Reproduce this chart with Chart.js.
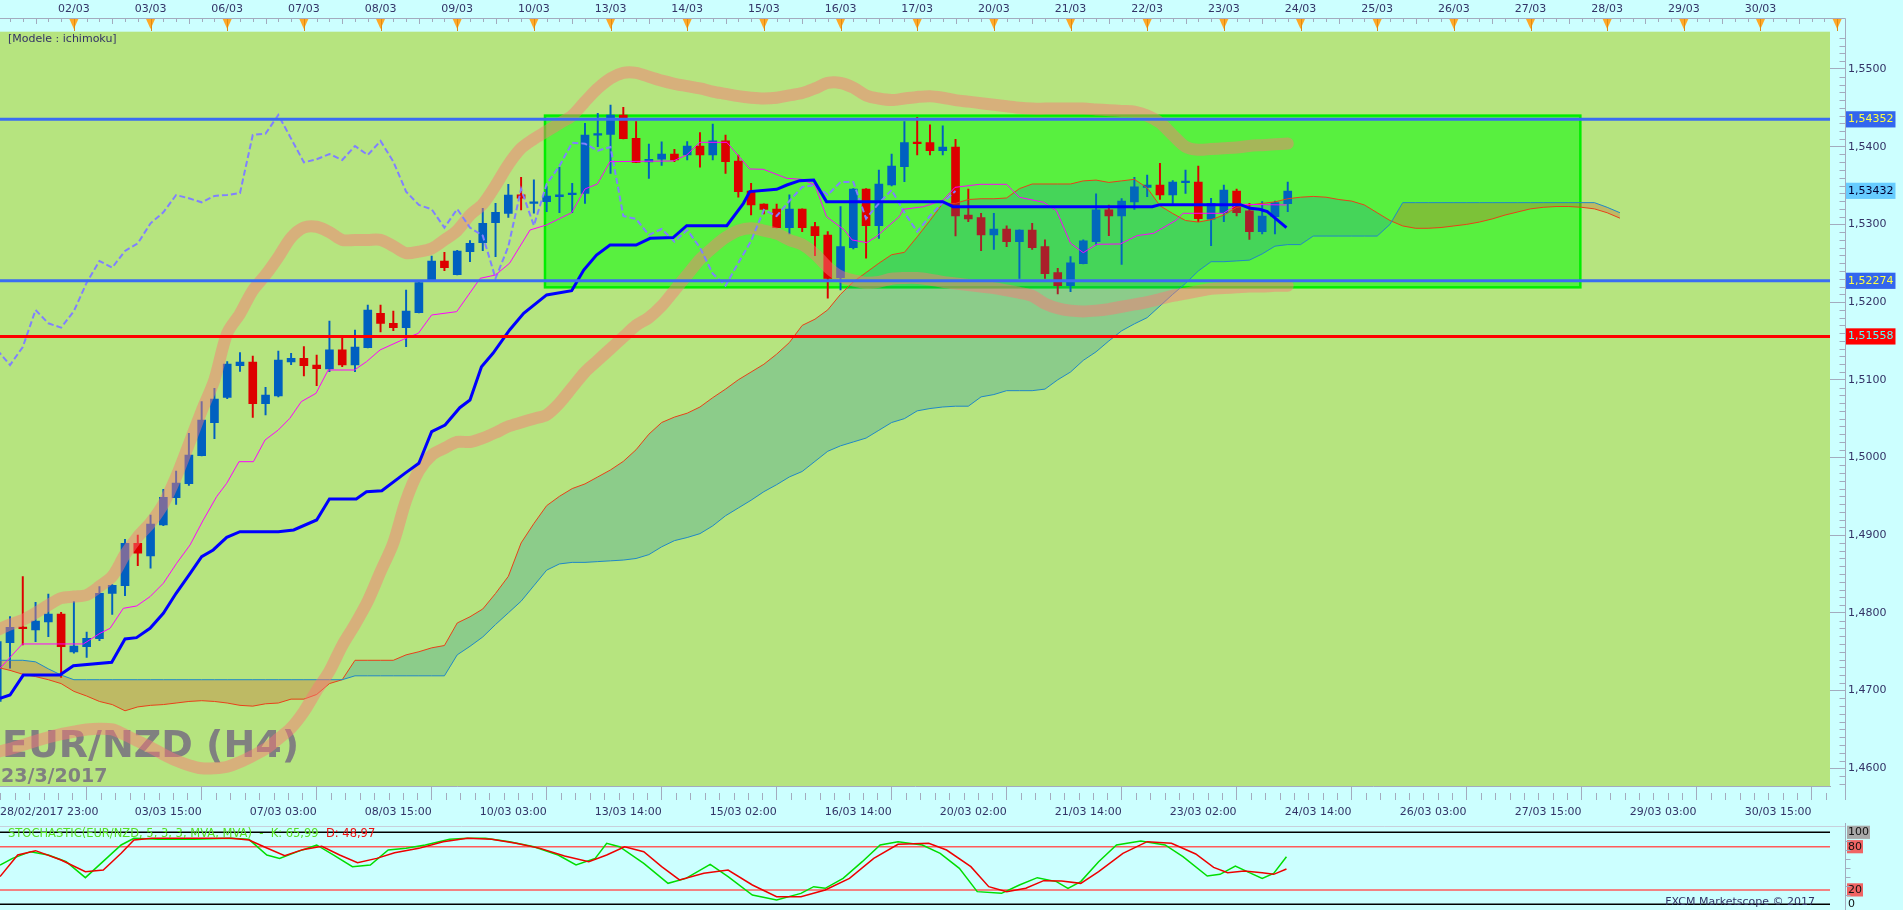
<!DOCTYPE html>
<html>
<head>
<meta charset="utf-8">
<title>EUR/NZD (H4) - ichimoku</title>
<script src="https://cdn.jsdelivr.net/npm/chart.js@4.4.1/dist/chart.umd.min.js"></script>
<style>
  html, body { margin:0; padding:0; background:#CCFFFF; overflow:hidden; }
  #wrap { position:relative; width:1903px; height:910px; }
  canvas { position:absolute; left:0; display:block; }
  #main { top:0; width:1903px; height:823px; }
  #stoch { top:823px; width:1903px; height:87px; }
</style>
</head>
<body>
<div id="wrap">
  <canvas id="main" width="1903" height="823"></canvas>
  <canvas id="stoch" width="1903" height="87"></canvas>
</div>
<script>
// ---------------- DATA ----------------
const candleStart = -1; // bar index of first candle
const openP = [1.4686,
 1.47617,1.47810,1.47780,1.47883,1.47986,1.47497,1.47565,1.47668,1.48252,1.48351,
 1.48895,1.48732,1.49131,1.49483,1.49663,1.50024,1.50448,1.50774,1.51182,1.51229,
 1.50693,1.50791,1.51229,1.51276,1.51190,1.51139,1.51384,1.51190,1.51414,1.51855,
 1.51727,1.51671,1.51864,1.52284,1.52529,1.52353,1.52649,1.52765,1.53022,1.53142,
 1.53379,1.53271,1.53293,1.53357,1.53383,1.53400,1.54147,1.54159,1.54408,1.54108,
 1.53803,1.53838,1.53906,1.53893,1.54009,1.53893,1.54074,1.53816,1.53430,1.53263,
 1.53198,1.52958,1.53198,1.52971,1.52864,1.52315,1.52701,1.53456,1.52984,1.53507,
 1.53743,1.54048,1.54052,1.53949,1.53996,1.53121,1.53087,1.52864,1.52941,1.52778,
 1.52928,1.52714,1.52379,1.52212,1.52495,1.52778,1.53186,1.53108,1.53289,1.53477,
 1.53507,1.53379,1.53537,1.53546,1.53066,1.53151,1.53430,1.53173,1.52907,1.53100,
 1.53267];
const highP = [1.4766,
 1.47952,1.48466,1.48136,1.48243,1.48007,1.48145,1.47754,1.48338,1.48365,1.48947,
 1.49003,1.49260,1.49590,1.49826,1.50311,1.50719,1.50890,1.51233,1.51349,1.51306,
 1.50903,1.51371,1.51341,1.51426,1.51319,1.51757,1.51542,1.51641,1.51963,1.51963,
 1.51885,1.52156,1.52265,1.52593,1.52640,1.52665,1.52791,1.53207,1.53271,1.53516,
 1.53606,1.53572,1.53486,1.53735,1.53529,1.54301,1.54430,1.54537,1.54507,1.54322,
 1.54035,1.54061,1.53966,1.54065,1.54181,1.54292,1.54151,1.53893,1.53529,1.53265,
 1.53263,1.53379,1.53200,1.53027,1.52907,1.53229,1.53460,1.53460,1.53700,1.53906,
 1.54322,1.54378,1.54280,1.54267,1.54095,1.53456,1.53143,1.53143,1.52980,1.52930,
 1.53014,1.52800,1.52435,1.52585,1.52800,1.53392,1.53250,1.53331,1.53606,1.53636,
 1.53786,1.53563,1.53700,1.53752,1.53336,1.53507,1.53456,1.53271,1.53293,1.53300,
 1.53546];
const lowP = [1.4683,
 1.47287,1.47587,1.47630,1.47694,1.47171,1.47480,1.47428,1.47643,1.47980,1.48222,
 1.48608,1.48574,1.49123,1.49397,1.49642,1.50020,1.50242,1.50757,1.51109,1.50517,
 1.50547,1.50780,1.51195,1.51049,1.50924,1.51105,1.51169,1.51105,1.51410,1.51615,
 1.51632,1.51426,1.51860,1.52280,1.52405,1.52350,1.52520,1.52662,1.52585,1.53091,
 1.53186,1.53143,1.53164,1.53151,1.53151,1.53271,1.54001,1.53657,1.54100,1.53795,
 1.53593,1.53760,1.53808,1.53829,1.53735,1.53829,1.53657,1.53349,1.53121,1.53134,
 1.52955,1.52877,1.52907,1.52598,1.52049,1.52156,1.52684,1.52564,1.52821,1.53495,
 1.53550,1.53893,1.53893,1.53893,1.52851,1.53035,1.52662,1.52679,1.52714,1.52306,
 1.52679,1.52306,1.52104,1.52135,1.52490,1.52735,1.52855,1.52486,1.53194,1.53357,
 1.53323,1.53271,1.53400,1.53035,1.52727,1.53035,1.53108,1.52808,1.52877,1.52877,
 1.53164];
const closeP = [1.4763,
 1.47814,1.47797,1.47896,1.47986,1.47565,1.47574,1.47673,1.48252,1.48355,1.48895,
 1.48767,1.49144,1.49487,1.49672,1.50032,1.50483,1.50753,1.51203,1.51229,1.50693,
 1.50804,1.51255,1.51276,1.51182,1.51143,1.51384,1.51190,1.51422,1.51898,1.51727,
 1.51671,1.51885,1.52250,1.52529,1.52443,1.52658,1.52756,1.53014,1.53155,1.53378,
 1.53336,1.53284,1.53366,1.53379,1.53404,1.54151,1.54168,1.54408,1.54104,1.53799,
 1.53838,1.53906,1.53829,1.54009,1.53893,1.54074,1.53808,1.53422,1.53250,1.53194,
 1.52958,1.53198,1.52958,1.52855,1.52306,1.52714,1.53456,1.52984,1.53520,1.53752,
 1.54052,1.54039,1.53949,1.53996,1.53108,1.53070,1.52864,1.52941,1.52778,1.52928,
 1.52701,1.52366,1.52212,1.52504,1.52787,1.53186,1.53108,1.53301,1.53482,1.53507,
 1.53379,1.53546,1.53546,1.53074,1.53271,1.53443,1.53151,1.52907,1.53108,1.53280,
 1.53430];

// Chikou span (lagging line), read per bar from bar -1 to bar 74
const chikouStart = -1;
const chikou = [1.51384,1.51190,1.51422,1.51898,1.51727,1.51671,1.51885,1.52250,1.52529,1.52443,
 1.52658,1.52756,1.53014,1.53155,1.53378,1.53336,1.53284,1.53366,1.53379,1.53404,
 1.54151,1.54168,1.54408,1.54104,1.53799,1.53838,1.53906,1.53829,1.54009,1.53893,
 1.54074,1.53808,1.53422,1.53250,1.53194,1.52958,1.53198,1.52958,1.52855,1.52306,
 1.52714,1.53456,1.52984,1.53520,1.53752,1.54052,1.54039,1.53949,1.53996,1.53108,
 1.53070,1.52864,1.52941,1.52778,1.52928,1.52701,1.52366,1.52212,1.52504,1.52787,
 1.53186,1.53108,1.53301,1.53482,1.53507,1.53379,1.53546,1.53546,1.53074,1.53271,
 1.53443,1.53151,1.52907,1.53108,1.53280,1.53430];

// Tenkan-sen [bar, price]
const tenkan = [[-0.78,1.47287],[0.97,1.47600],[5.74,1.47600],[7.04,1.47737],[7.83,1.47801],[8.87,1.48059],[9.91,1.48089],
 [10.96,1.48209],[12.0,1.48381],[13.04,1.48638],[14.09,1.48874],[15.13,1.49196],[16.17,1.49496],[16.96,1.49668],
 [17.92,1.49946],[19.05,1.49946],[19.96,1.50225],[21.0,1.50354],[21.9,1.50504],[22.8,1.50719],[23.95,1.50826],
 [24.9,1.51126],[26.95,1.51126],[27.9,1.51233],[28.96,1.51384],[30.8,1.51521],[31.96,1.51598],[33.0,1.51834],
 [34.96,1.51877],[36.8,1.52306],[38.0,1.52349],[39.1,1.52500],[40.7,1.52928],[42.0,1.52993],[43.96,1.53151],
 [45.0,1.53456],[45.97,1.53520],[46.96,1.53808],[51.9,1.53816],[52.96,1.53893],[54.0,1.54056],[56.1,1.54056],
 [57.9,1.53713],[58.96,1.53709],[60.8,1.53593],[61.96,1.53580],[63.0,1.53507],[63.9,1.53100],[65.3,1.52928],
 [65.9,1.52800],[67.05,1.52765],[67.8,1.52842],[69.6,1.53100],[69.9,1.53194],[71.5,1.53228],[73.05,1.53314],
 [73.96,1.53477],[75.9,1.53516],[78.0,1.53516],[79.0,1.53349],[80.9,1.53284],[81.9,1.53177],[83.0,1.52757],
 [84.0,1.52636],[85.05,1.52744],[86.9,1.52748],[88.2,1.52855],[89.5,1.52885],[91.3,1.53057],[91.8,1.53143],
 [94.96,1.53143],[96.1,1.53259],[99.9,1.53250]];

// Kijun-sen [bar, price]
const kijun = [[-0.78,1.46900],[0.0,1.46943],[1.04,1.47200],[3.9,1.47200],[4.96,1.47321],[7.96,1.47364],[9.0,1.47664],
 [9.9,1.47681],[10.96,1.47801],[12.0,1.47994],[13.0,1.48252],[14.1,1.48509],[15.0,1.48724],[15.9,1.48810],
 [16.96,1.48972],[18.0,1.49045],[21.0,1.49045],[22.2,1.49067],[24.0,1.49196],[25.0,1.49466],[27.1,1.49466],
 [27.9,1.49560],[29.1,1.49573],[30.9,1.49796],[32.0,1.49925],[33.0,1.50332],[34.05,1.50418],[35.2,1.50641],
 [36.0,1.50740],[36.9,1.51169],[37.8,1.51341],[39.1,1.51641],[40.2,1.51856],[42.0,1.52092],[43.96,1.52147],
 [44.9,1.52413],[45.9,1.52606],[46.96,1.52735],[49.0,1.52735],[50.1,1.52821],[51.9,1.52830],[52.96,1.52984],
 [56.1,1.52984],[57.4,1.53271],[57.9,1.53422],[60.0,1.53452],[60.8,1.53507],[61.8,1.53563],[62.9,1.53572],
 [63.9,1.53293],[73.0,1.53293],[73.8,1.53228],[89.4,1.53228],[90.0,1.53254],[96.3,1.53254],[97.05,1.53207],
 [97.8,1.53194],[98.4,1.53164],[99.9,1.52958]];

// Kumo (cloud), per bar from bar -1 to bar 126
const cloudStart = -1;
const senkouA = [1.4730,1.4726,1.4721,1.4718,1.4714,1.4709,1.4699,1.4693,1.4686,1.4682,1.4674,
 1.4679,1.4681,1.4682,1.4684,1.4686,1.4687,1.4686,1.4684,1.4681,1.4680,
 1.4683,1.4684,1.4689,1.4689,1.4695,1.4709,1.4714,1.4739,1.4739,1.4739,
 1.4739,1.4746,1.4750,1.4755,1.4758,1.4787,1.4795,1.4805,1.4825,1.4847,
 1.4890,1.4915,1.4938,1.4950,1.4960,1.4966,1.4975,1.4984,1.4995,1.5010,
 1.5030,1.5045,1.5052,1.5057,1.5065,1.5077,1.5088,1.5100,1.5110,1.5120,
 1.5133,1.5148,1.5170,1.5178,1.5190,1.5210,1.5226,1.5238,1.5250,1.5261,
 1.5264,1.5284,1.5305,1.5327,1.5327,1.5332,1.5333,1.5333,1.5334,1.5346,
 1.5352,1.5352,1.5352,1.5352,1.5356,1.5357,1.5354,1.5356,1.5358,1.5347,
 1.5324,1.5314,1.5305,1.5303,1.5306,1.5312,1.5322,1.5325,1.5327,1.5329,
 1.5333,1.5335,1.5336,1.5335,1.5332,1.5330,1.5325,1.5315,1.5305,1.5298,
 1.5295,1.5295,1.5296,1.5298,1.5300,1.5303,1.5307,1.5312,1.5316,1.5320,
 1.5322,1.5323,1.5323,1.5322,1.5320,1.5315,1.5308];
const senkouB = [1.4739,1.4739,1.4739,1.4737,1.4728,1.4720,
 1.4714,1.4714,1.4714,1.4714,1.4714,1.4714,1.4714,1.4714,1.4714,1.4714,1.4714,
 1.4714,1.4714,1.4714,1.4714,1.4714,1.4714,1.4714,1.4714,1.4714,1.4714,1.4714,
 1.4719,1.4719,1.4719,1.4719,1.4719,1.4719,1.4719,1.4719,
 1.4746,1.4757,1.4769,1.4785,1.4800,
 1.4815,1.4835,1.4855,1.4863,1.4865,
 1.4865,1.4866,1.4867,1.4868,1.4870,
 1.4875,1.4885,1.4893,1.4897,1.4902,
 1.4912,1.4925,1.4935,1.4945,1.4956,
 1.4965,1.4975,1.4982,1.4995,1.5008,
 1.5015,1.5020,1.5025,1.5035,1.5045,
 1.5050,1.5060,1.5063,1.5065,1.5066,
 1.5066,1.5078,1.5081,1.5086,1.5086,
 1.5086,1.5088,1.5100,1.5110,1.5125,
 1.5136,1.5150,1.5163,1.5172,1.5180,
 1.5195,1.5210,1.5224,1.5240,1.5252,
 1.5252,1.5253,1.5254,1.5262,1.5272,
 1.5274,1.5274,1.5285,1.5285,1.5285,
 1.5285,1.5285,1.5285,1.5300,1.5328,
 1.5328,1.5328,1.5328,1.5328,1.5328,1.5328,1.5328,1.5328,1.5328,1.5328,1.5328,1.5328,1.5328,1.5328,1.5328,
 1.5322,1.5315];

// Bollinger-style envelope, per bar from bar -1 to bar 100
const bandStart = -1;
const bandUpper = [1.4778,1.4785,1.4791,1.4800,1.4810,1.4819,1.4821,1.4823,1.4834,1.4847,
 1.4875,1.4898,1.4916,1.4940,1.4975,1.5017,1.5060,1.5100,1.5160,1.5185,
 1.5215,1.5235,1.5258,1.5283,1.5296,1.5297,1.5290,1.5280,1.5280,1.5280,
 1.5280,1.5272,1.5263,1.5265,1.5269,1.5280,1.5292,1.5312,1.5326,1.5350,
 1.5377,1.5398,1.5410,1.5420,1.5430,1.5440,1.5458,1.5475,1.5488,1.5495,
 1.5495,1.5490,1.5485,1.5481,1.5478,1.5475,1.5471,1.5468,1.5465,1.5463,
 1.5462,1.5463,1.5466,1.5469,1.5475,1.5482,1.5482,1.5476,1.5466,1.5462,
 1.5460,1.5462,1.5464,1.5465,1.5463,1.5460,1.5458,1.5456,1.5454,1.5452,
 1.5450,1.5449,1.5449,1.5449,1.5449,1.5449,1.5448,1.5447,1.5446,1.5445,
 1.5440,1.5431,1.5415,1.5400,1.5396,1.5397,1.5398,1.5399,1.5401,1.5402,
 1.5403,1.5404];
const bandLower = [1.4621,1.4625,1.4630,1.4635,1.4640,1.4644,1.4647,1.4650,1.4651,1.4650,
 1.4643,1.4635,1.4627,1.4618,1.4610,1.4604,1.4600,1.4600,1.4602,1.4608,
 1.4616,1.4625,1.4638,1.4652,1.4673,1.4700,1.4725,1.4758,1.4785,1.4815,
 1.4853,1.4890,1.4945,1.4983,1.5003,1.5012,1.5020,1.5020,1.5025,1.5032,
 1.5040,1.5045,1.5050,1.5055,1.5070,1.5090,1.5110,1.5125,1.5140,1.5155,
 1.5170,1.5180,1.5195,1.5215,1.5235,1.5255,1.5270,1.5283,1.5292,1.5295,
 1.5292,1.5288,1.5280,1.5274,1.5262,1.5245,1.5233,1.5228,1.5225,1.5226,
 1.5230,1.5231,1.5231,1.5229,1.5226,1.5224,1.5222,1.5220,1.5218,1.5215,
 1.5212,1.5208,1.5198,1.5192,1.5189,1.5188,1.5189,1.5191,1.5194,1.5197,
 1.5200,1.5204,1.5208,1.5211,1.5214,1.5217,1.5218,1.5219,1.5220,1.5220,
 1.5221,1.5221];

// Stochastic %K and %D [bar, value]
const stochK = [[-0.78,54.5],[0.2,63.8],[1.6,73.1],[3,68.5],[4.4,59.2],[5.9,37],[8.7,82.4],[9.7,91.6],[11.6,90.2],
 [14.4,90.2],[17.3,91.6],[18.7,90.2],[20.1,68.5],[21.1,63.8],[22.5,73.1],[24,82.4],[25.3,68.5],[26.8,52.3],
 [28.2,54.6],[29.6,75.4],[31,77.7],[32.5,82.4],[34.4,90.2],[35.8,91.6],[37.2,91.6],[39.1,87],[41,80],[42.9,68.5],
 [44.3,54.6],[45.8,63.8],[46.7,84.7],[47.7,80],[49.6,56.9],[51.5,29.1],[52.9,36],[54.8,55.5],[56.2,38.4],
 [58.1,12.9],[60,6],[61.9,15.2],[62.9,24.5],[63.8,22.2],[65.2,36],[66.7,59.2],[68.1,82.4],[69.5,87],[71.4,82.4],
 [72.8,70.8],[74.3,50],[75.7,17.6],[77.6,15.2],[79,26.8],[80.4,37],[81.9,31.5],[82.8,22.2],[83.8,31.5],[85.2,59.2],
 [86.6,82.4],[88.5,88],[90.4,82.4],[91.8,66.2],[93.7,39.3],[94.7,41.6],[95.9,53.2],[97,43.9],[98,36],[98.9,43],
 [99.9,65.99]];
const stochD = [[-0.78,38.4],[0.6,68.5],[2,74.5],[4,61.5],[5.9,45.3],[7.3,47.6],[8.7,70.8],[9.7,89.3],[11.1,91.6],
 [17.3,91.6],[18.7,89.3],[20.1,78.2],[21.5,67.5],[22.9,75.9],[24.4,80.5],[25.8,68.5],[27.2,57.8],[28.7,63.8],
 [30.1,71.7],[32,77.7],[33.9,87],[35.8,91.6],[37.7,90.2],[39.6,84.7],[41.5,77.7],[43.4,67.1],[45.3,59.2],
 [46.7,68.5],[48.1,80],[49.6,73.1],[51,52.3],[52.4,33.8],[54.3,43],[56.2,47.6],[58.1,26.8],[60,10.6],[61.9,10.6],
 [63.8,19.9],[65.7,36],[67.6,63.8],[69.5,83.3],[71.9,84.7],[73.3,75.4],[75.2,52.3],[76.6,24.5],[78,17.6],
 [79.5,22.2],[80.9,32.8],[82.3,32.4],[83.8,29.1],[85.2,45.3],[87.1,70.8],[89,87],[90.9,84.7],[92.8,69.9],
 [94.2,51.3],[95.3,43.9],[96.6,46.2],[98,43.9],[98.9,41.6],[99.9,48.97]];

// Levels, markers, zone
const levelPrices = [1.54352, 1.52274, 1.51558];
const markerPrices = [1.54352, 1.53432, 1.52274, 1.51558];
const zoneBars = [41.87, 122.9];
const zonePrices = [1.52190, 1.54400];

// Axis ticks and labels
const priceTicks = [1.46, 1.47, 1.48, 1.49, 1.50, 1.51, 1.52, 1.53, 1.54, 1.55];
const topTickBars = [5,11,17,23,29,35,41,47,53,59,65,71,77,83,89,95,101,107,113,119,125,131,137];
const topLabels = ['02/03','03/03','06/03','07/03','08/03','09/03','10/03','13/03','14/03','15/03','16/03','17/03',
  '20/03','21/03','22/03','23/03','24/03','25/03','26/03','27/03','28/03','29/03','30/03'];
const dayMarkBars = [5,11,17,23,29,35,41,47,53,59,65,71,77,83,89,95,101,107,113,119,125,131,137,143];
const bottomTickBars = [6,15,24,33,42,51,60,69,78,87,96,105,114,123,132,141];
const bottomLabels = ['28/02/2017 23:00','03/03 15:00','07/03 03:00','08/03 15:00','10/03 03:00','13/03 14:00',
  '15/03 02:00','16/03 14:00','20/03 02:00','21/03 14:00','23/03 02:00','24/03 14:00','26/03 03:00',
  '27/03 15:00','29/03 03:00','30/03 15:00'];
const stochTicks = [0, 20, 80, 100];
const stochMinorTicks = [12.5, 25, 37.5, 50, 62.5, 75, 87.5];
const stochLegendMain = 'STOCHASTIC(EUR/NZD, 5, 3, 3, MVA, MVA)  -  K: 65,99  ';
const stochLegendD = 'D: 48,97';

// ---------------- STYLE / SETUP ----------------
Chart.defaults.font.family = '"DejaVu Sans", Verdana, sans-serif';
Chart.defaults.font.size = 11;

const X_MIN = -0.783, X_MAX = 142.44;
const Y_MIN = 1.45772, Y_MAX = 1.55480;
const S_MIN = -7.92, S_MAX = 112.92;

const AXIS_TEXT = '#333366';
const GRID_GREY = '#A3ABBE';
const BULL = '#0060C0', BEAR = '#DD0000';
const markerBg = ['#3366EE', '#66CCFF', '#3366EE', '#FF0000'];
const markerFg = ['#FFFF44', '#000033', '#FFFF44', '#55FFFF'];
const levelColors = ['#3A6CF2', '#3A6CF2', '#FF0000'];

const fmt4 = v => v.toFixed(4).replace('.', ',');
const fmt5 = v => v.toFixed(5).replace('.', ',');
const markerIndex = v => markerPrices.findIndex(p => Math.abs(p - v) < 1e-7);
const seq = (start, arr) => arr.map((v, k) => ({ x: start + k, y: v }));
const pairs = arr => arr.map(p => ({ x: p[0], y: p[1] }));

const candleColors = closeP.map((c, k) => c >= openP[k] ? BULL : BEAR);
const wickData = lowP.map((l, k) => ({ x: candleStart + k, y: [l, highP[k]] }));
const bodyData = openP.map((o, k) => ({ x: candleStart + k, y: [o, closeP[k]] }));

const bgPlugin = {
  id: 'bgPlugin',
  beforeDraw(chart) {
    const { ctx, chartArea: a } = chart;
    ctx.save();
    ctx.fillStyle = '#CCFFFF';
    ctx.fillRect(0, 0, chart.width, chart.height);
    ctx.fillStyle = '#B6E47F';
    ctx.fillRect(a.left, a.top, a.right - a.left, a.bottom - a.top);
    ctx.restore();
  }
};

const underPlugin = {
  id: 'underPlugin',
  beforeDatasetsDraw(chart) {
    const { ctx, chartArea: a, scales: { x, y } } = chart;
    ctx.save();
    ctx.beginPath(); ctx.rect(a.left, a.top, a.right - a.left, a.bottom - a.top); ctx.clip();
    const x0 = x.getPixelForValue(zoneBars[0]), x1 = x.getPixelForValue(zoneBars[1]);
    const yTop = y.getPixelForValue(zonePrices[1]), yBot = y.getPixelForValue(zonePrices[0]);
    ctx.fillStyle = '#58F03F';
    ctx.fillRect(x0, yTop, x1 - x0, yBot - yTop);
    ctx.strokeStyle = '#00EE00'; ctx.lineWidth = 2.5;
    ctx.strokeRect(x0, yTop, x1 - x0, yBot - yTop);
    ctx.fillStyle = '#808080';
    ctx.textAlign = 'left'; ctx.textBaseline = 'alphabetic';
    ctx.font = 'bold 38px "DejaVu Sans"';
    ctx.fillText('EUR/NZD (H4)', 2, 757);
    ctx.font = 'bold 19px "DejaVu Sans"';
    ctx.fillText('23/3/2017', 1, 782);
    ctx.fillStyle = AXIS_TEXT; ctx.font = '11px "DejaVu Sans"'; ctx.textBaseline = 'middle';
    ctx.fillText('[Modele : ichimoku]', 8, 39);
    ctx.restore();
  }
};

const overPlugin = {
  id: 'overPlugin',
  afterDatasetsDraw(chart) {
    const { ctx, chartArea: a, scales: { y } } = chart;
    ctx.save();
    levelPrices.forEach((p, k) => {
      const py = y.getPixelForValue(p);
      ctx.strokeStyle = levelColors[k]; ctx.lineWidth = 3;
      ctx.beginPath(); ctx.moveTo(a.left, py); ctx.lineTo(a.right, py); ctx.stroke();
    });
    ctx.restore();
  }
};

const axisPlugin = {
  id: 'axisPlugin',
  afterDraw(chart) {
    const { ctx, chartArea: a, scales: { x, y } } = chart;
    const axisX = a.right + 15.5;
    ctx.save();
    ctx.strokeStyle = GRID_GREY; ctx.lineWidth = 1;
    ctx.beginPath(); ctx.moveTo(0, 18.5); ctx.lineTo(axisX, 18.5); ctx.stroke();
    for (let b = 0; b <= 143; b++) {
      const px = Math.round(x.getPixelForValue(b)) + 0.5;
      if (px > axisX) break;
      ctx.beginPath(); ctx.moveTo(px, 18.5); ctx.lineTo(px, b % 3 === 2 ? 24 : 22); ctx.stroke();
    }
    dayMarkBars.forEach(b => {
      const px = x.getPixelForValue(b);
      ctx.fillStyle = '#FFA826';
      ctx.beginPath(); ctx.moveTo(px - 4.5, 19); ctx.lineTo(px + 4.5, 19); ctx.lineTo(px, 29); ctx.closePath(); ctx.fill();
      ctx.strokeStyle = '#E08A10';
      ctx.beginPath(); ctx.moveTo(Math.round(px) + 0.5, 19); ctx.lineTo(Math.round(px) + 0.5, 31); ctx.stroke();
    });
    ctx.strokeStyle = GRID_GREY;
    ctx.beginPath(); ctx.moveTo(axisX, 18.5); ctx.lineTo(axisX, a.bottom + 14); ctx.stroke();
    for (let k = 1458; k <= 1554; k++) {
      if (k % 10 === 0) continue;
      const py = Math.round(y.getPixelForValue(k / 1000)) + 0.5;
      ctx.beginPath(); ctx.moveTo(axisX - 6, py); ctx.lineTo(axisX, py); ctx.stroke();
    }
    for (let m = -6; m < 140; m++) {
      if (m % 8 === 0) continue;
      const b = bottomTickBars[0] + m * 9 / 8;
      const px = Math.round(x.getPixelForValue(b)) + 0.5;
      if (px < 0 || px > a.right) continue;
      ctx.beginPath(); ctx.moveTo(px, a.bottom + 7); ctx.lineTo(px, a.bottom + 14); ctx.stroke();
    }
    ctx.fillStyle = AXIS_TEXT; ctx.font = '11px "DejaVu Sans"';
    ctx.textAlign = 'left'; ctx.textBaseline = 'middle';
    bottomTickBars.forEach((b, i) => {
      const px = x.getPixelForValue(b);
      const w = ctx.measureText(bottomLabels[i]).width;
      ctx.fillText(bottomLabels[i], Math.max(0, px - w), a.bottom + 26);
    });
    ctx.restore();
  }
};

const mainChart = new Chart(document.getElementById('main'), {
  type: 'bar',
  data: {
    datasets: [
      { type: 'bar', label: 'Wick', data: wickData, backgroundColor: candleColors, barThickness: 1.3,
        grouped: false, borderWidth: 0, order: 20 },
      { type: 'bar', label: 'Body', data: bodyData, backgroundColor: candleColors, barThickness: 8,
        minBarLength: 1.5, grouped: false, borderWidth: 0, order: 19 },
      { type: 'line', label: 'Senkou Span A', data: seq(cloudStart, senkouA), borderColor: '#E8401A', borderWidth: 1,
        pointRadius: 0, tension: 0,
        fill: { target: '+1', above: 'rgba(10,130,175,0.24)', below: 'rgba(210,90,40,0.30)' }, order: 18 },
      { type: 'line', label: 'Senkou Span B', data: seq(cloudStart, senkouB), borderColor: '#1E88C8', borderWidth: 1,
        pointRadius: 0, tension: 0, fill: false, order: 17 },
      { type: 'line', label: 'Upper band', data: seq(bandStart, bandUpper), borderColor: 'rgba(250,120,120,0.48)',
        borderWidth: 12, pointRadius: 0, tension: 0.3, fill: false, borderCapStyle: 'round', borderJoinStyle: 'round', order: 16 },
      { type: 'line', label: 'Lower band', data: seq(bandStart, bandLower), borderColor: 'rgba(250,120,120,0.48)',
        borderWidth: 12, pointRadius: 0, tension: 0.3, fill: false, borderCapStyle: 'round', borderJoinStyle: 'round', order: 15 },
      { type: 'line', label: 'Chikou Span', data: seq(chikouStart, chikou), borderColor: '#8080FF', borderWidth: 2,
        borderDash: [6, 3], pointRadius: 0, tension: 0, fill: false, order: 14 },
      { type: 'line', label: 'Tenkan-sen', data: pairs(tenkan), borderColor: '#FF00FF', borderWidth: 1,
        pointRadius: 0, tension: 0, fill: false, order: 13 },
      { type: 'line', label: 'Kijun-sen', data: pairs(kijun), borderColor: '#0000FF', borderWidth: 3,
        pointRadius: 0, tension: 0, fill: false, order: 12 }
    ]
  },
  options: {
    responsive: false, animation: false, events: [],
    layout: { padding: 0 },
    plugins: { legend: { display: false }, tooltip: { enabled: false } },
    scales: {
      x: {
        type: 'linear', position: 'bottom', min: X_MIN, max: X_MAX, offset: false,
        afterBuildTicks: s => { s.ticks = bottomTickBars.map(v => ({ value: v })); },
        afterFit: s => { s.height = 37; s.paddingLeft = 0; s.paddingRight = 0; },
        ticks: { display: false, autoSkip: false },
        grid: { display: true, drawOnChartArea: false, drawTicks: true, tickLength: 14, tickColor: GRID_GREY, offset: false },
        border: { display: true, color: GRID_GREY, width: 1 }
      },
      xTop: {
        type: 'linear', position: 'top', min: X_MIN, max: X_MAX, offset: false,
        afterBuildTicks: s => { s.ticks = topTickBars.map(v => ({ value: v })); },
        afterFit: s => { s.height = 31.7; s.paddingLeft = 0; s.paddingRight = 0; },
        ticks: { autoSkip: false, maxRotation: 0, minRotation: 0, padding: 16, color: AXIS_TEXT,
                 font: { size: 11 }, callback: (v, i) => topLabels[i] },
        grid: { display: false, drawTicks: false, offset: false },
        border: { display: false }
      },
      y: {
        type: 'linear', position: 'right', min: Y_MIN, max: Y_MAX,
        afterBuildTicks: s => {
          s.ticks = priceTicks.concat(markerPrices).sort((p, q) => p - q).map(v => ({ value: v }));
        },
        afterFit: s => { s.width = 73; s.paddingTop = 0; s.paddingBottom = 0; },
        ticks: {
          autoSkip: false, padding: 3, font: { size: 11 },
          callback: v => markerIndex(v) >= 0 ? fmt5(v) : fmt4(v),
          color: ctx => { const k = ctx.tick ? markerIndex(ctx.tick.value) : -1; return k >= 0 ? markerFg[k] : AXIS_TEXT; },
          showLabelBackdrop: ctx => !!ctx.tick && markerIndex(ctx.tick.value) >= 0,
          backdropColor: ctx => { const k = ctx.tick ? markerIndex(ctx.tick.value) : -1; return k >= 0 ? markerBg[k] : 'rgba(0,0,0,0)'; },
          backdropPadding: { left: 2, right: 2, top: 1.5, bottom: 1.5 }
        },
        grid: {
          display: true, drawOnChartArea: false, drawTicks: true, tickLength: 15, tickWidth: 1,
          tickColor: ctx => (ctx.tick && markerIndex(ctx.tick.value) >= 0) ? 'rgba(0,0,0,0)' : GRID_GREY
        },
        border: { display: false }
      }
    }
  },
  plugins: [bgPlugin, underPlugin, overPlugin, axisPlugin]
});

// ---------------- STOCHASTIC PANEL ----------------
const stochBg = {
  id: 'stochBg',
  beforeDraw(chart) {
    const { ctx } = chart;
    ctx.save(); ctx.fillStyle = '#CCFFFF'; ctx.fillRect(0, 0, chart.width, chart.height);
    ctx.strokeStyle = '#C8D0DC'; ctx.lineWidth = 1;
    ctx.beginPath(); ctx.moveTo(0, 3.5); ctx.lineTo(chart.chartArea.right + 15.5, 3.5); ctx.stroke();
    ctx.restore();
  },
  beforeDatasetsDraw(chart) {
    const { ctx, chartArea: a, scales: { y } } = chart;
    ctx.save();
    stochTicks.forEach(v => {
      const py = y.getPixelForValue(v);
      ctx.strokeStyle = (v === 0 || v === 100) ? '#000000' : '#FF5A5A';
      ctx.lineWidth = 1.5;
      ctx.beginPath(); ctx.moveTo(a.left, py); ctx.lineTo(a.right, py); ctx.stroke();
    });
    const axisX = a.right + 15.5;
    ctx.strokeStyle = GRID_GREY; ctx.lineWidth = 1;
    ctx.beginPath(); ctx.moveTo(axisX, 0); ctx.lineTo(axisX, chart.height); ctx.stroke();
    stochMinorTicks.forEach(v => {
      const py = Math.round(y.getPixelForValue(v)) + 0.5;
      ctx.beginPath(); ctx.moveTo(axisX, py); ctx.lineTo(axisX + 5, py); ctx.stroke();
    });
    ctx.restore();
  },
  afterDraw(chart) {
    const { ctx, chartArea: a, scales: { y } } = chart;
    ctx.save();
    ctx.font = '11.5px "DejaVu Sans"'; ctx.textBaseline = 'middle'; ctx.textAlign = 'left';
    const ty = y.getPixelForValue(100) + 1.5;
    ctx.fillStyle = '#55DD22';
    ctx.fillText(stochLegendMain, 8, ty);
    ctx.fillStyle = '#EE1111';
    ctx.fillText(stochLegendD, 8 + ctx.measureText(stochLegendMain).width, ty);
    ctx.font = '11px "DejaVu Sans"'; ctx.fillStyle = AXIS_TEXT; ctx.textAlign = 'right';
    ctx.fillText('FXCM Marketscope \u00A9 2017', a.right - 15, y.getPixelForValue(0) - 2);
    ctx.restore();
  }
};

const stochChart = new Chart(document.getElementById('stoch'), {
  type: 'line',
  data: {
    datasets: [
      { label: 'K', data: pairs(stochK), borderColor: '#00DD00', borderWidth: 1.5, pointRadius: 0, tension: 0, fill: false, order: 2 },
      { label: 'D', data: pairs(stochD), borderColor: '#EE0000', borderWidth: 1.5, pointRadius: 0, tension: 0, fill: false, order: 1 }
    ]
  },
  options: {
    responsive: false, animation: false, events: [],
    layout: { padding: 0 },
    plugins: { legend: { display: false }, tooltip: { enabled: false } },
    scales: {
      x: { type: 'linear', min: X_MIN, max: X_MAX, display: false, offset: false },
      y: {
        type: 'linear', position: 'right', min: S_MIN, max: S_MAX,
        afterBuildTicks: s => { s.ticks = stochTicks.map(v => ({ value: v })); },
        afterFit: s => { s.width = 73; s.paddingTop = 0; s.paddingBottom = 0; },
        ticks: {
          autoSkip: false, padding: 18, font: { size: 11 }, color: '#111111',
          callback: v => String(v),
          showLabelBackdrop: ctx => !!ctx.tick && ctx.tick.value !== 0,
          backdropColor: ctx => (ctx.tick && ctx.tick.value === 100) ? '#A8A8A8' : '#F06464',
          backdropPadding: { left: 1, right: 1, top: 0, bottom: 0 }
        },
        grid: { display: false, drawTicks: false },
        border: { display: false }
      }
    }
  },
  plugins: [stochBg]
});
</script>
</body>
</html>
